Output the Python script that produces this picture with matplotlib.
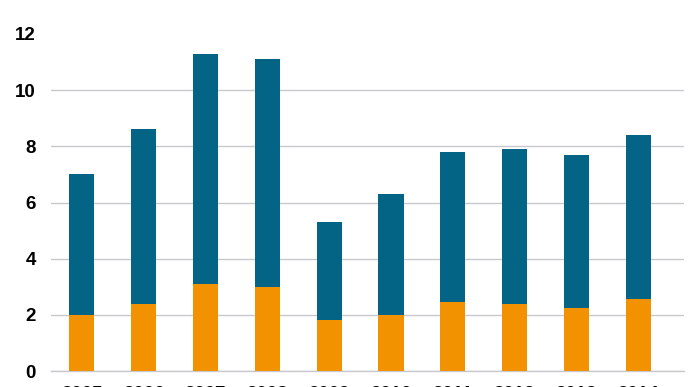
import matplotlib
matplotlib.use("Agg")
import matplotlib.pyplot as plt
import numpy as np

years = ["2005", "2006", "2007", "2008", "2009", "2010", "2011", "2012", "2013", "2014"]
orange_vals = [2.0, 2.4, 3.1, 3.0, 1.8, 2.0, 2.45, 2.4, 2.25, 2.55]
totals = [7.0, 8.6, 11.3, 11.1, 5.3, 6.3, 7.8, 7.9, 7.7, 8.4]
blue_vals = [t - o for t, o in zip(totals, orange_vals)]

plt.rcParams['font.family'] = ['Liberation Sans', 'DejaVu Sans']

fig = plt.figure(figsize=(6.88, 3.87), dpi=100)
ax = fig.add_axes([51 / 688, 16 / 387, 633 / 688, 337 / 387])

x = np.arange(len(years))
ax.bar(x, orange_vals, width=0.405, color="#F39200", zorder=3)
ax.bar(x, blue_vals, bottom=orange_vals, width=0.405, color="#046486", zorder=3)

ax.set_xlim(-0.5, len(years) - 0.26)
ax.set_ylim(0, 12)
ax.set_yticks(range(0, 13, 2))
ax.set_xticks(x)
ax.set_xticklabels(years)

ax.yaxis.grid(True, color="#c8c8d0", linewidth=1, zorder=0)
ax.get_ygridlines()[-1].set_visible(False)

for s in ["top", "right", "left"]:
    ax.spines[s].set_visible(False)
ax.spines["bottom"].set_color("#c8c8d0")
ax.spines["bottom"].set_linewidth(1)

ax.tick_params(axis="both", length=0, labelsize=13.5)
ax.tick_params(axis="y", pad=11)
ax.tick_params(axis="x", pad=10.5)
for lab in ax.get_xticklabels() + ax.get_yticklabels():
    lab.set_fontweight("bold")

fig.savefig("out.png", dpi=100)
